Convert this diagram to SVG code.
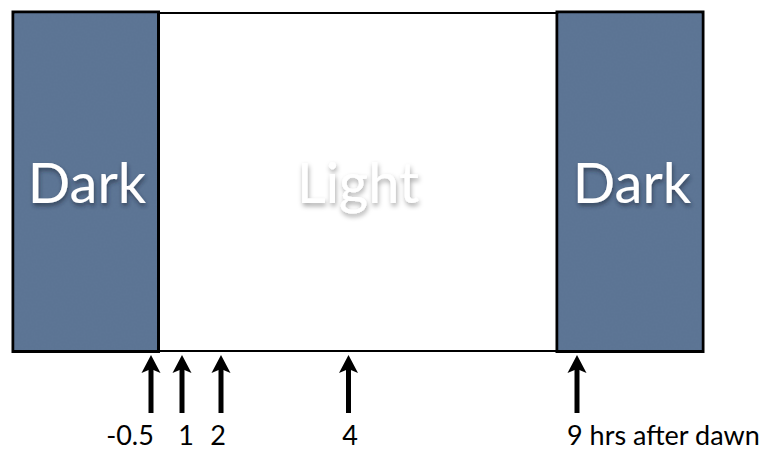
<svg xmlns="http://www.w3.org/2000/svg" width="773" height="452" viewBox="0 0 773 452">
  <style>
    .panel { fill: #5b7393; stroke: #000; stroke-width: 3; }
    .mid { fill: #fff; stroke: #000; stroke-width: 2; }
    .big { font-family: Lato, "Open Sans", sans-serif; font-size: 56px; fill: #fff; text-anchor: middle; }
    .lbl { font-family: Lato, "Open Sans", sans-serif; font-size: 27px; fill: #000; }
    .shaft { stroke: #000; stroke-width: 5; }
  </style>
  <defs>
    <filter id="tex" x="0" y="0" width="1" height="1" color-interpolation-filters="sRGB">
      <feTurbulence type="fractalNoise" baseFrequency="0.5" numOctaves="2" seed="3" result="n"/>
      <feColorMatrix in="n" type="matrix" values="0 0 0 0 0.40  0 0 0 0 0.50  0 0 0 0 0.62  0 0 0 0.25 0" result="c"/>
      <feComposite in="c" in2="SourceGraphic" operator="atop"/>
    </filter>
    <filter id="shDark" x="-10%" y="-10%" width="130%" height="140%">
      <feDropShadow dx="1" dy="3" stdDeviation="2" flood-color="#1d2838" flood-opacity="0.6"/>
    </filter>
    <filter id="shLight" x="-10%" y="-10%" width="130%" height="140%">
      <feDropShadow dx="1" dy="3" stdDeviation="2.5" flood-color="#000" flood-opacity="0.35"/>
    </filter>
    <path id="head" d="M0,0 L9.5,18 L0,14 L-9.5,18 Z" fill="#000"/>
  </defs>

  <g id="light">
    <rect class="mid" x="158" y="13" width="399" height="338"/>
    <text class="big" x="358" y="203" filter="url(#shLight)">Light</text>
  </g>
  <g id="dark-left">
    <rect class="panel" x="13" y="12" width="145.5" height="339.5"/>
    <rect x="14.5" y="13.5" width="142.5" height="336.5" fill="#5b7393" filter="url(#tex)"/>
    <text class="big" x="87" y="203" filter="url(#shDark)">Dark</text>
  </g>
  <g id="dark-right">
    <rect class="panel" x="557" y="12" width="146" height="339.5"/>
    <rect x="558.5" y="13.5" width="143" height="336.5" fill="#5b7393" filter="url(#tex)"/>
    <text class="big" x="632" y="203" filter="url(#shDark)">Dark</text>
  </g>

  <g id="connectors">
    <g transform="translate(151,355)"><line class="shaft" x1="0" y1="12" x2="0" y2="58"/><use href="#head"/></g>
    <g transform="translate(182,355)"><line class="shaft" x1="0" y1="12" x2="0" y2="58"/><use href="#head"/></g>
    <g transform="translate(221,355)"><line class="shaft" x1="0" y1="12" x2="0" y2="58"/><use href="#head"/></g>
    <g transform="translate(348.5,355)"><line class="shaft" x1="0" y1="12" x2="0" y2="58"/><use href="#head"/></g>
    <g transform="translate(577,355)"><line class="shaft" x1="0" y1="12" x2="0" y2="58"/><use href="#head"/></g>
  </g>

  <g id="labels">
    <text class="lbl" x="130" y="445" text-anchor="middle">-0.5</text>
    <text class="lbl" x="186" y="445" text-anchor="middle">1</text>
    <text class="lbl" x="218" y="445" text-anchor="middle">2</text>
    <text class="lbl" x="350" y="445" text-anchor="middle">4</text>
    <text class="lbl" x="567" y="445">9 hrs after dawn</text>
  </g>
</svg>
